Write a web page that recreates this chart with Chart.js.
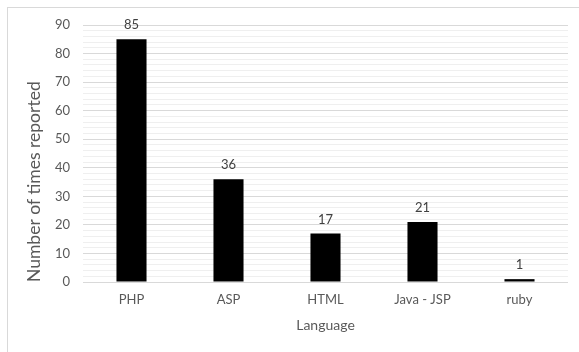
<!DOCTYPE html>
<html>
<head>
<meta charset="utf-8">
<script src="https://cdn.jsdelivr.net/npm/chart.js@4/dist/chart.umd.min.js"></script>
<style>
  body { margin: 0; background: #fff; }
  .frame {
    position: absolute; left: 7px; top: 7px;
    width: 572px; height: 345px;
    border-left: 1px solid #d9d9d9; border-top: 1px solid #d9d9d9;
  }
  canvas { display: block; }
</style>
</head>
<body>
<div class="frame"><canvas id="langChart" width="571" height="344"></canvas></div>
<script>
const languages = ['PHP', 'ASP', 'HTML', 'Java - JSP', 'ruby'];
const timesReported = [85, 36, 17, 21, 1];
const yMax = 90;
const majorStep = 10;
const minorStep = 2;

const FONT = 'Lato, "Open Sans", sans-serif';
const TEXT = '#595959';

// value above each bar
const barValues = {
  id: 'barValues',
  afterDatasetsDraw(chart) {
    const ctx = chart.ctx;
    ctx.save();
    ctx.font = '13px ' + FONT;
    ctx.fillStyle = '#404040';
    ctx.textAlign = 'center';
    ctx.textBaseline = 'middle';
    chart.getDatasetMeta(0).data.forEach((bar, i) => {
      ctx.fillText(timesReported[i], bar.x, bar.y - 14);
    });
    ctx.restore();
  }
};

new Chart(document.getElementById('langChart').getContext('2d'), {
  type: 'bar',
  data: {
    labels: languages,
    datasets: [{
      data: timesReported,
      backgroundColor: '#000',
      borderColor: '#000',
      borderWidth: 0,
      categoryPercentage: 1,
      barPercentage: 0.31
    }]
  },
  options: {
    responsive: false,
    animation: false,
    layout: { padding: { left: 12, right: 11, top: 17, bottom: 14 } },
    plugins: { legend: { display: false }, tooltip: { enabled: false } },
    scales: {
      x: {
        grid: { display: false },
        border: { display: false },
        ticks: { color: TEXT, font: { family: FONT, size: 13 }, padding: 2 },
        title: {
          display: true, text: 'Language', color: TEXT,
          font: { family: FONT, size: 14 }
        },
        afterFit(scale) { scale.height = 56; }
      },
      y: {
        min: 0,
        max: yMax,
        border: { display: false },
        grid: {
          drawTicks: false,
          color: (c) => (c.tick.value % majorStep === 0 ? '#d9d9d9' : '#efefef')
        },
        ticks: {
          stepSize: minorStep,
          autoSkip: false,
          padding: 13,
          color: TEXT,
          font: { family: FONT, size: 13 },
          callback: (v) => (v % majorStep === 0 ? v : '')
        },
        title: {
          display: true, text: 'Number of times reported', color: TEXT,
          align: 'start',
          font: { family: FONT, size: 17.5 }
        },
        afterFit(scale) {
          scale.width = 63;
          scale.paddingTop = 0;
          scale.paddingBottom = 0;
        }
      }
    }
  },
  plugins: [barValues]
});
</script>
</body>
</html>
